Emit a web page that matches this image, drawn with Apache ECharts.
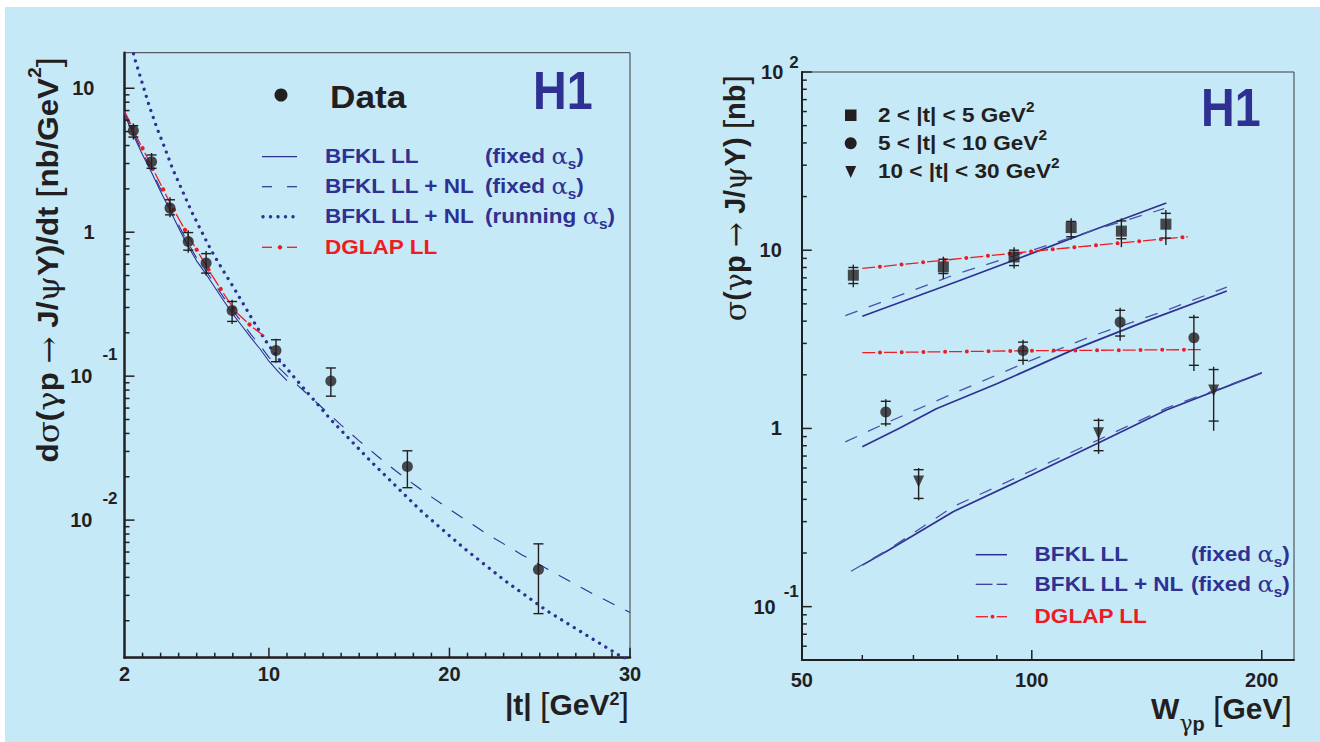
<!DOCTYPE html>
<html><head><meta charset="utf-8">
<script src="https://cdn.jsdelivr.net/npm/echarts@6/dist/echarts.min.js"></script>
<style>
html,body{margin:0;padding:0;background:#ffffff;width:1320px;height:742px;overflow:hidden;}
#bg{position:absolute;left:5px;top:7px;right:0;bottom:0;background:#c6e9f8;}
#c{position:absolute;left:0;top:0;width:1320px;height:742px;}
</style>
</head><body><div id="bg"></div><div id="c"></div>
<script>
// ---------------- LEFT PANEL DATA: dsigma/dt vs |t| ----------------
const tVals      = [2.49, 3.5, 4.52, 5.53, 6.52, 7.96, 10.39, 13.43, 17.67, 24.93];
const dsdtVals   = [5.08, 3.09, 1.47, 0.861, 0.61, 0.286, 0.151, 0.0927, 0.0236, 0.00454];
const dsdtStatLo = [4.58, 2.78, 1.32, 0.75, 0.52, 0.24, 0.126, 0.0726, 0.0168, 0.00224];
const dsdtStatHi = [5.5, 3.44, 1.68, 0.994, 0.71, 0.33, 0.179, 0.114, 0.0303, 0.00684];
const dsdtTotLo  = [4.4, 2.7, 1.27, 0.72, 0.5, 0.23, 0.124, 0.0726, 0.0168, 0.00224];
const dsdtTotHi  = [5.7, 3.55, 1.75, 1.03, 0.74, 0.34, 0.182, 0.114, 0.0303, 0.00684];

const llT   = [2.0, 2.5, 3.0, 3.5, 4.0, 4.5, 5.0, 5.5, 6.0, 6.5, 7.0, 7.5, 8.0, 8.5, 9.0, 9.5, 10.0, 10.5, 11.0];
const llVal = [6.6, 4.7, 3.45, 2.6, 1.92, 1.44, 1.07, 0.81, 0.63, 0.515, 0.415, 0.333, 0.27, 0.224, 0.185, 0.155, 0.127, 0.108, 0.093];

const nlT   = [2.0, 2.5, 3.0, 3.5, 4.0, 4.5, 5.0, 5.5, 6.0, 6.5, 7.0, 7.5, 8.0, 8.5, 9.0, 9.5, 10.0, 10.5, 11.0, 12, 13, 14, 15, 16, 17, 18, 19, 20, 22, 24, 26, 28, 30];
const nlVal = [6.84, 4.9, 3.59, 2.69, 2.0, 1.51, 1.12, 0.85, 0.66, 0.543, 0.436, 0.351, 0.285, 0.237, 0.195, 0.164, 0.135, 0.116, 0.101, 0.0776, 0.0596, 0.0457, 0.0355, 0.0279, 0.0221, 0.0178, 0.0145, 0.0119, 0.00813, 0.00575, 0.00417, 0.00305, 0.00228];

const runT   = [2.42, 2.52, 3.37, 3.78, 4.24, 4.67, 5.17, 5.67, 6.22, 6.79, 7.42, 8.07, 8.69, 9.32, 9.97, 10.58, 11.26, 13.41, 15.62, 18.42, 20.75, 23.08, 25.41, 29.6, 30];
const runVal = [19.5, 16.8, 7.54, 5.36, 3.83, 2.74, 1.99, 1.43, 1.04, 0.753, 0.553, 0.408, 0.301, 0.221, 0.165, 0.13, 0.103, 0.0502, 0.0258, 0.0116, 0.00646, 0.00379, 0.00234, 0.00111, 0.00104];

const dglT   = [2.0, 2.16, 2.71, 3.26, 3.82, 4.37, 4.96, 5.56, 6.2, 6.83, 7.5, 8.19, 9.08, 9.88];
const dglVal = [6.9, 6.3, 4.5, 3.3, 2.39, 1.74, 1.27, 0.933, 0.684, 0.505, 0.373, 0.278, 0.219, 0.184];

// ---------------- RIGHT PANEL DATA: sigma vs W ----------------
const wSq = [58.4, 76.6, 94.8, 112.6, 131, 149.8];
const sigSq = [7.24, 8.06, 9.17, 13.4, 12.8, 14.0];
const sqStatLo = [6.5, 7.4, 8.2, 11.9, 11.6, 11.7];
const sqStatHi = [8.0, 8.9, 10.0, 14.5, 14.6, 16.1];
const sqTotLo  = [6.2, 6.9, 7.9, 11.5, 10.4, 10.7];
const sqTotHi  = [8.3, 9.2, 10.4, 15.1, 15.1, 16.8];

const wCi = [64.4, 97.4, 130.5, 163];
const sigCi = [1.235, 2.74, 3.95, 3.23];
const ciStatLo = [1.06, 2.41, 3.3, 2.26];
const ciStatHi = [1.42, 3.05, 4.6, 4.2];
const ciTotLo  = [1.03, 2.28, 3.1, 2.1];
const ciTotHi  = [1.46, 3.15, 4.75, 4.35];

const wTr = [71.1, 122.3, 173];
const sigTr = [0.504, 0.941, 1.63];
const trStatLo = [0.405, 0.75, 1.1];
const trStatHi = [0.587, 1.11, 2.14];
const trTotLo  = [0.395, 0.72, 0.97];
const trTotHi  = [0.6, 1.14, 2.22];

const sqLLw = [60, 80, 100, 120, 150];
const sqLLv = [4.26, 6.7, 9.6, 12.9, 18.4];
const sqNLw = [57, 65, 80, 100, 125, 149];
const sqNLv = [4.3, 5.3, 7.4, 10.0, 13.6, 17.1];
const sqDGw = [60, 72, 106, 160];
const sqDGv = [7.9, 8.55, 10.1, 11.9];

const ciLLw = [60, 67, 75, 90, 113, 140, 180];
const ciLLv = [0.79, 1.0, 1.29, 1.78, 2.75, 3.95, 5.9];
const ciNLw = [57, 65, 80, 100, 120, 150, 180];
const ciNLv = [0.84, 1.09, 1.61, 2.42, 3.3, 4.6, 6.2];
const ciDGw = [60, 100, 168];
const ciDGv = [2.66, 2.73, 2.77];

const trLLw = [60, 65, 79, 100, 122, 150, 200];
const trLLv = [0.171, 0.208, 0.342, 0.55, 0.826, 1.27, 2.05];
const trNLw = [58, 65, 79, 100, 122, 150, 200];
const trNLv = [0.158, 0.21, 0.365, 0.58, 0.86, 1.3, 2.05];

// ---------------- AXES / TICKS ----------------
const leftXMin = 2, leftXMax = 30, leftYMin = 0.001107, leftYMax = 17.66;
const rightXMin = 50, rightXMax = 220.4, rightYMin = 0.0502, rightYMax = 100;
const leftXLabels = [2, 10, 20, 30];
const rightXLabels = [50, 100, 200];
const leftXMajor = [10, 20, 30];
const leftXMinor = [3,4,5,6,7,8,9,11,12,13,14,15,16,17,18,19,21,22,23,24,25,26,27,28,29];
const leftYMajor = [0.01, 0.1, 1, 10];
const leftYMinor = [0.002,0.003,0.004,0.005,0.006,0.007,0.008,0.009,0.02,0.03,0.04,0.05,0.06,0.07,0.08,0.09,0.2,0.3,0.4,0.5,0.6,0.7,0.8,0.9,2,3,4,5,6,7,8,9];
const rightXMajor = [100, 200];
const rightXMinor = [60, 70, 80, 90];
const rightYMajor = [0.1, 1, 10, 100];
const rightYMinor = [0.06,0.07,0.08,0.09,0.2,0.3,0.4,0.5,0.6,0.7,0.8,0.9,2,3,4,5,6,7,8,9,20,30,40,50,60,70,80,90];

const FONT = '"Liberation Sans", Arial, Helvetica, sans-serif';
const GREEK = '"DejaVu Serif", "Liberation Serif", serif';
const DARK = '#231f20', BLUE = '#2e3192', RED = '#ed1c24';

const zip = (a, b) => a.map((v, i) => [v, b[i]]);
const zipErr = (x, y, a, b, c, d) => x.map((v, i) => [v, y[i], a[i], b[i], c[i], d[i]]);

// tick marks: [x, y, dx, dy] drawn inward from the axis through the library's coordinate system
function buildTicks(xLo, yLo, xMaj, xMin, yMaj, yMin) {
  const out = [];
  yMaj.forEach(v => out.push([xLo, v, 10, 0]));
  yMin.forEach(v => out.push([xLo, v, 5, 0]));
  xMaj.forEach(v => out.push([v, yLo, 0, -10]));
  xMin.forEach(v => out.push([v, yLo, 0, -5]));
  return out;
}
function tickRender(params, api) {
  const p = api.coord([api.value(0), api.value(1)]);
  return { type: 'line', shape: { x1: p[0], y1: p[1], x2: p[0] + api.value(2), y2: p[1] + api.value(3) },
           style: { stroke: DARK, lineWidth: 1.5 } };
}

function errRender(capW) {
  return function (params, api) {
    const x = api.value(0);
    const sLo = api.coord([x, api.value(2)]), sHi = api.coord([x, api.value(3)]);
    const tLo = api.coord([x, api.value(4)]), tHi = api.coord([x, api.value(5)]);
    const st = { stroke: DARK, lineWidth: 1.4 };
    return { type: 'group', children: [
      { type: 'line', shape: { x1: tHi[0], y1: tHi[1], x2: tLo[0], y2: tLo[1] }, style: st },
      { type: 'line', shape: { x1: sHi[0] - capW, y1: sHi[1], x2: sHi[0] + capW, y2: sHi[1] }, style: st },
      { type: 'line', shape: { x1: sLo[0] - capW, y1: sLo[1], x2: sLo[0] + capW, y2: sLo[1] }, style: st }
    ]};
  };
}

function yFmtLeft(v) {
  const e = Math.round(Math.log10(v));
  if (Math.abs(Math.log10(v) - e) > 1e-6) return '';
  if (e === 0) return '{b|1}{p| }';
  if (e === 1) return '{b|10}{p| }';
  return '{b|10}{s|' + e + '}';
}
function yFmtRight(v) {
  const e = Math.round(Math.log10(v));
  if (Math.abs(Math.log10(v) - e) > 1e-6) return '';
  if (e === 0) return '{b|1}{p| }';
  if (e === 1) return '{b|10}{p| }';
  if (e === 2) return '{b|10}{s2|2}';
  return '{b|10}{s|' + e + '}';
}
const labBase = { fontFamily: FONT, fontWeight: 'bold', fontSize: 20, color: DARK };

const lineS = (xi, xs, ys, color, width, type) => ({
  type: 'line', xAxisIndex: xi, yAxisIndex: xi, data: zip(xs, ys), showSymbol: false, symbol: 'none',
  smooth: false, silent: true, clip: true, z: 3,
  lineStyle: { color: color, width: width, type: type, cap: 'butt' }
});
const dotS = (xi, xs, ys, color, width, gap, offset) => ({
  type: 'line', xAxisIndex: xi, yAxisIndex: xi, data: zip(xs, ys), showSymbol: false, symbol: 'none',
  silent: true, clip: true, z: 3,
  lineStyle: { color: color, width: width, type: [0.01, gap], dashOffset: offset || 0, cap: 'round' }
});

const chart = echarts.init(document.getElementById('c'), null, { renderer: 'svg', width: 1320, height: 742 });

const gText = (x, y, text, rich, opts) => Object.assign({
  type: 'text', x: x, y: y, silent: true,
  style: { text: text, rich: rich, align: 'left', textAlign: 'left', verticalAlign: 'middle', textVerticalAlign: 'middle', fill: DARK }
}, opts || {});

const legRich = (col) => ({
  t: { fontFamily: FONT, fontWeight: 'bold', fontSize: 20.5, fill: col, lineHeight: 30, verticalAlign: 'middle' },
  a: { fontFamily: GREEK, fontSize: 22, fill: col, lineHeight: 30, verticalAlign: 'middle' },
  sub: { fontFamily: FONT, fontWeight: 'bold', fontSize: 14, fill: col, lineHeight: 18, verticalAlign: 'bottom' },
  sup: { fontFamily: FONT, fontWeight: 'bold', fontSize: 14, fill: col, lineHeight: 16, verticalAlign: 'top' }
});
const titleRich = {
  b: { fontFamily: FONT, fontWeight: 'bold', fontSize: 29, fill: DARK, lineHeight: 44, verticalAlign: 'middle' },
  g: { fontFamily: GREEK, fontSize: 30, fill: DARK, lineHeight: 44, verticalAlign: 'middle' },
  n: { fontFamily: FONT, fontSize: 34, fill: DARK, lineHeight: 44, verticalAlign: 'middle' },
  sup: { fontFamily: FONT, fontWeight: 'bold', fontSize: 18, fill: DARK, lineHeight: 20, verticalAlign: 'top' },
  sub: { fontFamily: GREEK, fontSize: 22, fill: DARK, lineHeight: 20, verticalAlign: 'bottom' },
  subp: { fontFamily: FONT, fontWeight: 'bold', fontSize: 20, fill: DARK, lineHeight: 20, verticalAlign: 'bottom' }
};
const xTitleRichW = Object.assign({}, titleRich, {
  b: Object.assign({}, titleRich.b, { fontSize: 30, lineHeight: 52 }),
  n: Object.assign({}, titleRich.n, { lineHeight: 52 })
});
const xTitleRichT = Object.assign({}, titleRich, {
  b: Object.assign({}, titleRich.b, { fontSize: 30, lineHeight: 36 }),
  n: Object.assign({}, titleRich.n, { lineHeight: 36 }),
  sup: Object.assign({}, titleRich.sup, { padding: [4, 0, 0, 0] })
});

const ln = (x1, y1, x2, y2, col, w) => ({ type: 'line', silent: true, shape: { x1, y1, x2, y2 }, style: { stroke: col, lineWidth: w } });
const dot = (cx, cy, r, col) => ({ type: 'circle', silent: true, shape: { cx, cy, r }, style: { fill: col } });

const legY = [156.7, 186.7, 216.7, 247.3];
const legY2 = [554.7, 584.3, 616.7];

const graphics = [
  dot(281, 95, 6.5, DARK),
  gText(330, 97, 'Data', null, { scaleX: 1.1, style: { text: 'Data', font: 'bold 32px ' + FONT, fill: DARK, align: 'left', textAlign: 'left', verticalAlign: 'middle', textVerticalAlign: 'middle' } }),
  gText(533, 91, 'H1', null, { scaleX: 0.88, style: { text: 'H1', font: 'bold 53px ' + FONT, fill: BLUE, align: 'left', textAlign: 'left', verticalAlign: 'middle', textVerticalAlign: 'middle' } }),
  ln(262, legY[0], 297, legY[0], BLUE, 1.2),
  ln(262, legY[1], 272, legY[1], BLUE, 1.2), ln(287, legY[1], 297, legY[1], BLUE, 1.2),
  dot(263, legY[2], 1.7, BLUE), dot(270.5, legY[2], 1.7, BLUE), dot(278, legY[2], 1.7, BLUE), dot(285.5, legY[2], 1.7, BLUE), dot(293, legY[2], 1.7, BLUE),
  ln(262, legY[3], 272, legY[3], RED, 1.3), dot(280, legY[3], 2.2, RED), ln(287, legY[3], 297, legY[3], RED, 1.3),
  gText(325, legY[0], '{t|BFKL LL}', legRich(BLUE), { scaleX: 1.1 }),
  gText(485, legY[0], '{t|(fixed }{a|α}{sub|s}{t|)}', legRich(BLUE), { scaleX: 1.1 }),
  gText(325, legY[1], '{t|BFKL LL + NL}', legRich(BLUE), { scaleX: 1.1 }),
  gText(485, legY[1], '{t|(fixed }{a|α}{sub|s}{t|)}', legRich(BLUE), { scaleX: 1.1 }),
  gText(325, legY[2], '{t|BFKL LL + NL}', legRich(BLUE), { scaleX: 1.1 }),
  gText(485, legY[2], '{t|(running }{a|α}{sub|s}{t|)}', legRich(BLUE), { scaleX: 1.1 }),
  gText(325, legY[3], '{t|DGLAP LL}', legRich(RED), { scaleX: 1.1 }),

  gText(1201, 107.5, 'H1', null, { scaleX: 0.88, style: { text: 'H1', font: 'bold 53px ' + FONT, fill: BLUE, align: 'left', textAlign: 'left', verticalAlign: 'middle', textVerticalAlign: 'middle' } }),
  { type: 'rect', silent: true, shape: { x: 845, y: 109.5, width: 11.5, height: 11.5 }, style: { fill: DARK } },
  dot(850.7, 143.3, 6, DARK),
  { type: 'polygon', silent: true, shape: { points: [[845.2, 166], [856.2, 166], [850.7, 178]] }, style: { fill: DARK } },
  gText(878, 115, '{t|2 < |t| < 5 GeV}{sup|2}', legRich(DARK), { scaleX: 1.1 }),
  gText(878, 143.3, '{t|5 < |t| < 10 GeV}{sup|2}', legRich(DARK), { scaleX: 1.1 }),
  gText(878, 171.7, '{t|10 < |t| < 30 GeV}{sup|2}', legRich(DARK), { scaleX: 1.1 }),
  ln(975.7, legY2[0], 1007, legY2[0], BLUE, 1.5),
  ln(975.7, legY2[1], 992.5, legY2[1], BLUE, 1.2), ln(996.7, legY2[1], 1007.2, legY2[1], BLUE, 1.2),
  ln(975.7, legY2[2], 988, legY2[2], RED, 1.3), dot(992.5, legY2[2], 1.9, RED), ln(996.7, legY2[2], 1007, legY2[2], RED, 1.3),
  gText(1034.6, legY2[0], '{t|BFKL LL}', legRich(BLUE), { scaleX: 1.1 }),
  gText(1191, legY2[0], '{t|(fixed }{a|α}{sub|s}{t|)}', legRich(BLUE), { scaleX: 1.1 }),
  gText(1034.6, legY2[1], '{t|BFKL LL + NL}', legRich(BLUE), { scaleX: 1.1 }),
  gText(1191, legY2[1], '{t|(fixed }{a|α}{sub|s}{t|)}', legRich(BLUE), { scaleX: 1.1 }),
  gText(1034.6, legY2[2], '{t|DGLAP LL}', legRich(RED), { scaleX: 1.1 }),

  { type: 'text', x: 48, y: 57, rotation: Math.PI / 2, scaleX: 1.08, silent: true,
    style: { text: '{b|d}{g|σ}{b|(}{g|γ}{b|p }{g|→}{b| J/}{g|ψ}{b|Y)/dt }{n|[}{b|nb/GeV}{sup|2}{n|]}', rich: titleRich,
             align: 'right', textAlign: 'right', verticalAlign: 'middle', textVerticalAlign: 'middle', fill: DARK } },
  { type: 'text', x: 735, y: 75, rotation: Math.PI / 2, silent: true,
    style: { text: '{g|σ}{b|(}{g|γ}{b|p }{g|→}{b| J/}{g|ψ}{b|Y) }{n|[}{b|nb}{n|]}', rich: titleRich,
             align: 'right', textAlign: 'right', verticalAlign: 'middle', textVerticalAlign: 'middle', fill: DARK } },
  { type: 'text', x: 629, y: 704, silent: true,
    style: { text: '{b||t| }{n|[}{b|GeV}{sup|2}{n|]}', rich: xTitleRichT,
             align: 'right', textAlign: 'right', verticalAlign: 'middle', textVerticalAlign: 'middle', fill: DARK } },
  { type: 'text', x: 1292, y: 708, silent: true,
    style: { text: '{b|W}{sub|γ}{subp|p}{b| }{n|[}{b|GeV}{n|]}', rich: xTitleRichW,
             align: 'right', textAlign: 'right', verticalAlign: 'middle', textVerticalAlign: 'middle', fill: DARK } }
];

const option = {
  animation: false,
  grid: [
    { left: 124.5, top: 52.7, width: 505.5, height: 605, show: true, borderColor: '#3a3a3a', borderWidth: 1 },
    { left: 801.8, top: 72, width: 492.2, height: 588, show: true, borderColor: '#3a3a3a', borderWidth: 1 }
  ],
  xAxis: [
    { type: 'value', gridIndex: 0, min: leftXMin, max: leftXMax, position: 'bottom',
      axisLine: { show: true, onZero: false, lineStyle: { color: DARK, width: 2.5 } },
      axisTick: { show: false }, splitLine: { show: false },
      axisLabel: Object.assign({ customValues: leftXLabels, margin: 6 }, labBase) },
    { type: 'log', gridIndex: 1, min: rightXMin, max: rightXMax, logBase: 10, position: 'bottom',
      axisLine: { show: true, onZero: false, lineStyle: { color: DARK, width: 2 } },
      axisTick: { show: false }, splitLine: { show: false },
      axisLabel: Object.assign({ customValues: rightXLabels, margin: 10 }, labBase) }
  ],
  yAxis: [
    { type: 'log', gridIndex: 0, min: leftYMin, max: leftYMax, logBase: 10, position: 'left',
      axisLine: { show: true, onZero: false, lineStyle: { color: DARK, width: 2.5 } },
      axisTick: { show: false }, splitLine: { show: false },
      axisLabel: { margin: 7, formatter: yFmtLeft, showMinLabel: true, showMaxLabel: true,
        rich: {
          b: { fontFamily: FONT, fontWeight: 'bold', fontSize: 20, color: DARK, lineHeight: 60, verticalAlign: 'middle' },
          p: { width: 23, fontSize: 20, lineHeight: 60 },
          s: { fontFamily: FONT, fontWeight: 'bold', fontSize: 17, color: DARK, lineHeight: 20, verticalAlign: 'top', padding: [0, 0, 0, 10] }
        } } },
    { type: 'log', gridIndex: 1, min: rightYMin, max: rightYMax, logBase: 10, position: 'left',
      axisLine: { show: true, onZero: false, lineStyle: { color: DARK, width: 2 } },
      axisTick: { show: false }, splitLine: { show: false },
      axisLabel: { margin: 3, formatter: yFmtRight, showMinLabel: true, showMaxLabel: true,
        rich: {
          b: { fontFamily: FONT, fontWeight: 'bold', fontSize: 20, color: DARK, lineHeight: 48, verticalAlign: 'middle' },
          p: { width: 17, fontSize: 20, lineHeight: 48 },
          s: { fontFamily: FONT, fontWeight: 'bold', fontSize: 17, color: DARK, lineHeight: 20, verticalAlign: 'top', padding: [0, 0, 0, 8] },
          s2: { fontFamily: FONT, fontWeight: 'bold', fontSize: 17, color: DARK, lineHeight: 20, verticalAlign: 'top', padding: [6, 0, 0, 6] }
        } } }
  ],
  graphic: graphics,
  series: [
    { type: 'custom', xAxisIndex: 0, yAxisIndex: 0, z: 10, renderItem: tickRender,
      data: buildTicks(leftXMin, leftYMin, leftXMajor, leftXMinor, leftYMajor, leftYMinor) },
    { type: 'custom', xAxisIndex: 1, yAxisIndex: 1, z: 10, renderItem: tickRender,
      data: buildTicks(rightXMin, rightYMin, rightXMajor, rightXMinor, rightYMajor, rightYMinor) },
    lineS(0, llT, llVal, BLUE, 1.1, 'solid'),
    lineS(0, nlT, nlVal, BLUE, 1.1, [13, 12]),
    dotS(0, runT, runVal, BLUE, 3.3, 7.4, 0),
    lineS(0, dglT, dglVal, RED, 1.3, [14, 9]),
    dotS(0, dglT, dglVal, RED, 4.2, 23, 4.5),
    lineS(1, sqLLw, sqLLv, BLUE, 1.7, 'solid'),
    lineS(1, sqNLw, sqNLv, '#4a52a6', 1.3, [13, 12]),
    lineS(1, ciLLw, ciLLv, BLUE, 1.7, 'solid'),
    lineS(1, ciNLw, ciNLv, '#4a52a6', 1.3, [13, 12]),
    lineS(1, trLLw, trLLv, BLUE, 1.7, 'solid'),
    lineS(1, trNLw, trNLv, '#4a52a6', 1.3, [13, 12]),
    lineS(1, sqDGw, sqDGv, RED, 1.3, [13, 8.7]),
    dotS(1, sqDGw, sqDGv, RED, 4, 21.7, 4.3),
    lineS(1, ciDGw, ciDGv, RED, 1.3, [13, 8.7]),
    dotS(1, ciDGw, ciDGv, RED, 4, 21.7, 4.3),
    { type: 'custom', xAxisIndex: 0, yAxisIndex: 0, silent: true, z: 6, renderItem: errRender(5),
      data: zipErr(tVals, dsdtVals, dsdtStatLo, dsdtStatHi, dsdtTotLo, dsdtTotHi) },
    { type: 'custom', xAxisIndex: 1, yAxisIndex: 1, silent: true, z: 6, renderItem: errRender(5),
      data: zipErr(wSq, sigSq, sqStatLo, sqStatHi, sqTotLo, sqTotHi) },
    { type: 'custom', xAxisIndex: 1, yAxisIndex: 1, silent: true, z: 6, renderItem: errRender(5),
      data: zipErr(wCi, sigCi, ciStatLo, ciStatHi, ciTotLo, ciTotHi) },
    { type: 'custom', xAxisIndex: 1, yAxisIndex: 1, silent: true, z: 6, renderItem: errRender(5),
      data: zipErr(wTr, sigTr, trStatLo, trStatHi, trTotLo, trTotHi) },
    { type: 'scatter', xAxisIndex: 0, yAxisIndex: 0, silent: true, z: 7, symbol: 'circle', symbolSize: 11,
      itemStyle: { color: DARK }, data: zip(tVals, dsdtVals) },
    { type: 'scatter', xAxisIndex: 1, yAxisIndex: 1, silent: true, z: 7, symbol: 'rect', symbolSize: 11,
      itemStyle: { color: DARK }, data: zip(wSq, sigSq) },
    { type: 'scatter', xAxisIndex: 1, yAxisIndex: 1, silent: true, z: 7, symbol: 'circle', symbolSize: 11,
      itemStyle: { color: DARK }, data: zip(wCi, sigCi) },
    { type: 'scatter', xAxisIndex: 1, yAxisIndex: 1, silent: true, z: 7, symbol: 'triangle', symbolRotate: 180, symbolSize: [11, 12],
      itemStyle: { color: DARK }, data: zip(wTr, sigTr) }
  ]
};
chart.setOption(option);
</script>
</body></html>
